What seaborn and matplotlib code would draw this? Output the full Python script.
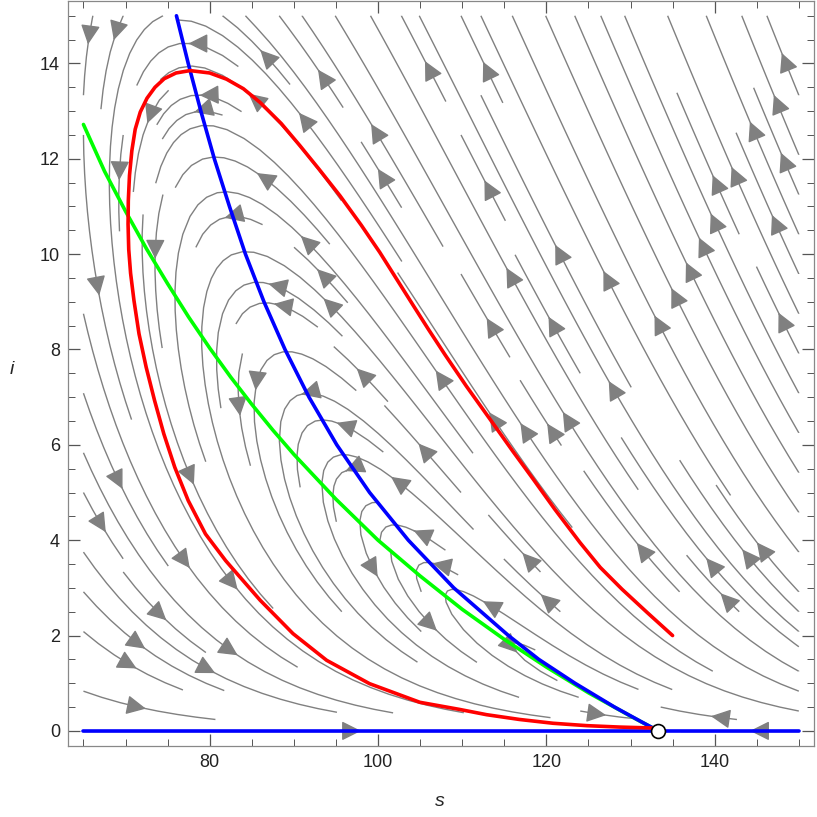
import numpy as np
import matplotlib
matplotlib.use("Agg")
import matplotlib.pyplot as plt
import seaborn as sns

# trajectory and nullclines (s, i)
red_s = [135.0, 132.0, 129.0, 126.4, 124.0, 121.0, 118.4, 116.0, 113.5, 110.5,
         108.0, 106.0, 104.2, 102.2, 100.2, 98.0, 95.5, 93.0, 90.7, 88.5, 86.0,
         84.0, 82.0, 80.0, 77.66, 76.0, 74.6, 73.5, 72.55, 71.75, 71.15, 70.75,
         70.47, 70.33, 70.30, 70.38, 70.6, 71.0, 71.6, 72.45, 73.45, 74.55, 75.85,
         77.45, 79.5, 81.9, 86.0, 89.9, 93.9, 99.0, 104.97, 109.7, 112.9, 116.8,
         120.8, 124.8, 128.7, 132.7]
red_i = [2.00, 2.48, 2.97, 3.43, 3.95, 4.65, 5.29, 5.87, 6.49, 7.23,
         7.88, 8.42, 8.92, 9.48, 10.04, 10.61, 11.22, 11.78, 12.28, 12.74, 13.18,
         13.47, 13.67, 13.80, 13.85, 13.80, 13.68, 13.50, 13.27, 12.98, 12.62, 12.17,
         11.65, 11.12, 10.63, 10.10, 9.60, 9.03, 8.33, 7.63, 6.93, 6.23, 5.53,
         4.83, 4.13, 3.57, 2.74, 2.04, 1.48, 0.99, 0.60, 0.45, 0.34, 0.24,
         0.16, 0.11, 0.08, 0.06]

blue_s = [76.05, 77.45, 78.95, 80.55, 82.35, 84.25, 86.45, 88.95, 91.8, 95.1,
          99.0, 103.6, 109.0, 115.5, 119.1, 123.4, 128.1, 131.2, 133.3]
blue_i = [15.0, 14.0, 13.0, 12.0, 11.0, 10.0, 9.0, 8.0, 7.0, 6.0,
          5.0, 4.0, 3.0, 2.0, 1.5, 1.0, 0.5, 0.2, 0.0]

green_s = [65.0, 67.5, 70.0, 72.5, 75.0, 77.5, 80.0, 82.5, 85.0, 87.5, 90.0,
           95.0, 100.0, 105.0, 110.0, 115.0, 120.0, 125.0, 130.0, 133.3]
green_i = [12.72, 11.74, 10.90, 10.11, 9.38, 8.68, 8.03, 7.42, 6.85, 6.31, 5.80,
           4.86, 4.00, 3.25, 2.55, 1.92, 1.34, 0.80, 0.31, 0.0]

axis_s = [65, 150]
axis_i = [0, 0]

eq_s = [133.3]
eq_i = [0.0]

# model parameters for the direction field
S0 = 133.3
MU = 12.0
S_INF = 48.5
D = 84.8
B = 0.136

sns.set_style("ticks")
plt.rcParams['font.family'] = ['Liberation Sans', 'DejaVu Sans']

fig = plt.figure(figsize=(8.17, 8.17), dpi=100)
ax = fig.add_axes([0.0836, 0.0873, 0.9127, 0.9115])

sg, ig = np.meshgrid(np.linspace(65, 150, 150), np.linspace(0, 15, 150))
ds = MU * (S0 - sg) - sg * ig
di = ig * (sg - S_INF - D / (1 + B * ig))
stream_kw = dict(density=1.25, color='#808080', linewidth=1.0,
                 arrowsize=3.0, arrowstyle='-|>', zorder=1)
try:
    ax.streamplot(sg, ig, ds, di, num_arrows=3, **stream_kw)
except TypeError:
    ax.streamplot(sg, ig, ds, di, **stream_kw)

sns.lineplot(x=green_s, y=green_i, sort=False, estimator=None, color='#00ff00',
             linewidth=2.6, ax=ax, zorder=3)
sns.lineplot(x=blue_s, y=blue_i, sort=False, estimator=None, color='#0000ff',
             linewidth=2.6, ax=ax, zorder=4)
sns.lineplot(x=axis_s, y=axis_i, sort=False, estimator=None, color='#0000ff',
             linewidth=2.6, ax=ax, zorder=4)
sns.lineplot(x=red_s, y=red_i, sort=False, estimator=None, color='#ff0000',
             linewidth=2.6, ax=ax, zorder=5)
ax.plot(eq_s, eq_i, 'o', ms=10, mfc='white', mec='black', mew=1.2, zorder=6,
        clip_on=False)

ax.set_xlim(63.2, 151.8)
ax.set_ylim(-0.31, 15.31)
ax.set_xticks([80, 100, 120, 140])
ax.set_xticks(np.arange(65, 151, 5), minor=True)
ax.set_yticks(np.arange(0, 15, 2))
ax.set_yticks(np.arange(0, 15.1, 0.5), minor=True)
ax.tick_params(which='both', direction='in', top=True, right=True,
               colors='#555555', labelcolor='#222222', labelsize=13)
ax.tick_params(which='major', length=8.5, width=0.9, pad=6)
ax.tick_params(which='minor', length=5, width=0.7)
for sp in ax.spines.values():
    sp.set_color('#888888')
    sp.set_linewidth(0.9)

ax.set_xlabel('s', fontsize=14, style='italic')
ax.set_ylabel('i', fontsize=14, style='italic', rotation=0, ha='center', va='center')
ax.yaxis.set_label_coords(-0.0755, 0.505)
ax.xaxis.set_label_coords(0.498, -0.064)

fig.savefig('out.png', dpi=100)
